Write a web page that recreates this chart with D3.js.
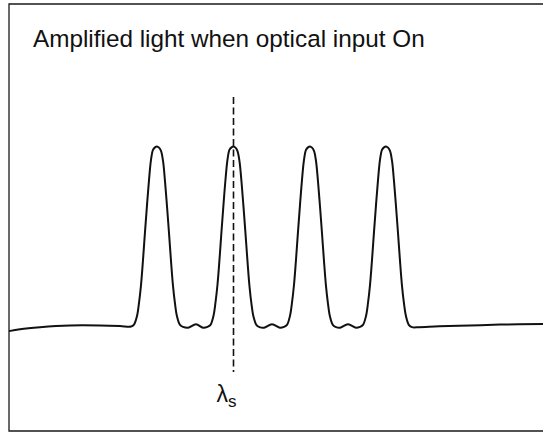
<!DOCTYPE html>
<html>
<head>
<meta charset="utf-8">
<script src="https://cdn.jsdelivr.net/npm/d3@7"></script>
<style>
  html, body { margin: 0; padding: 0; background: #fff; }
  svg { display: block; }
</style>
</head>
<body>
<svg id="chart" width="543" height="433"></svg>
<script>
// Output spectrum of the amplifier (arbitrary wavelength offset, relative power)
const wavelength = [
  0, 11, 31, 61, 91, 111,
  122, 125, 128, 130, 132, 134, 136, 138, 140, 142, 144, 146, 148, 150, 152, 154, 156, 158, 160, 162, 164, 166, 168, 171, 174,
  179, 187, 194,
  198.5, 201.5, 204.5, 206.5, 208.5, 210.5, 212.5, 214.5, 216.5, 218.5, 220.5, 222.5, 224.5, 226.5, 228.5, 230.5, 232.5, 234.5, 236.5, 238.5, 240.5, 242.5, 244.5, 247.5, 250.5,
  255, 263, 271,
  275, 278, 281, 283, 285, 287, 289, 291, 293, 295, 297, 299, 301, 303, 305, 307, 309, 311, 313, 315, 317, 319, 321, 324, 327,
  331, 339, 347,
  351, 354, 357, 359, 361, 363, 365, 367, 369, 371, 373, 375, 377, 379, 381, 383, 385, 387, 389, 391, 393, 395, 397, 400, 403,
  410, 430, 461, 491, 534
];
const power = [
  35.1, 35.8, 36.5, 37.1, 37.1, 36.9,
  36.7, 37.4, 40.4, 45.0, 51.3, 60.1, 70.0, 79.4, 88.2, 95.3, 98.8, 99.7, 100, 99.6, 98.5, 95.0, 87.8, 79.0, 69.6, 59.8, 51.0, 44.8, 40.3, 37.3, 36.6,
  36.3, 37.5, 36.3,
  36.6, 37.3, 40.5, 45.2, 51.5, 60.3, 70.2, 79.6, 88.4, 95.4, 98.9, 99.7, 100, 99.6, 98.4, 94.8, 87.6, 78.8, 69.4, 59.6, 50.8, 44.6, 40.2, 37.2, 36.5,
  36.3, 37.5, 36.3,
  36.6, 37.3, 40.5, 45.1, 51.4, 60.2, 70.1, 79.5, 88.3, 95.3, 98.8, 99.7, 100, 99.6, 98.5, 94.9, 87.7, 78.9, 69.5, 59.7, 50.9, 44.7, 40.2, 37.2, 36.5,
  36.3, 37.5, 36.3,
  36.6, 37.3, 40.4, 45.0, 51.3, 60.1, 70.0, 79.4, 88.2, 95.3, 98.8, 99.7, 100, 99.6, 98.5, 95.0, 87.8, 79.0, 69.6, 59.8, 51.0, 44.8, 40.3, 37.2, 36.5,
  36.5, 36.8, 37.1, 37.4, 37.6
];

// Signal wavelength marker
const signalWavelength = 224.5;
const signalLabel = "λ";
const signalSub = "s";
const titleText = "Amplified light when optical input On";

const svg = d3.select("#chart");
const W = 543, H = 433;

const frame = { left: 9, top: 4, bottom: 431 };

const x = d3.scaleLinear().domain([0, 534]).range([frame.left, W]);
const y = d3.scaleLinear().domain([0, 100]).range([frame.bottom, 146.5]);

// Frame (open on the right side)
svg.append("path")
  .attr("d", `M${W},${frame.top}H${frame.left}V${frame.bottom}H${W}`)
  .attr("fill", "none")
  .attr("stroke", "#1a1a1a")
  .attr("stroke-width", 1.3);

// Title
svg.append("text")
  .attr("x", 33)
  .attr("y", 47)
  .attr("font-family", "'Liberation Sans', Arial, Helvetica, sans-serif")
  .attr("font-size", 24.3)
  .attr("fill", "#111")
  .text(titleText);

// Spectrum trace
const pts = wavelength.map((w, i) => [w, power[i]]);
const line = d3.line()
  .x(d => x(d[0]))
  .y(d => y(d[1]))
  .curve(d3.curveCatmullRom.alpha(0.5));

svg.append("path")
  .datum(pts)
  .attr("d", line)
  .attr("fill", "none")
  .attr("stroke", "#111")
  .attr("stroke-width", 2)
  .attr("stroke-linejoin", "round");

// Dashed marker at the signal wavelength
svg.append("line")
  .attr("x1", x(signalWavelength))
  .attr("x2", x(signalWavelength))
  .attr("y1", y(117.4))
  .attr("y2", y(20.7))
  .attr("stroke", "#111")
  .attr("stroke-width", 1.6)
  .attr("stroke-dasharray", "7,3.5");

// λs label
const lbl = svg.append("text")
  .attr("x", x(signalWavelength) - 17)
  .attr("y", 402)
  .attr("font-family", "'Liberation Sans', Arial, Helvetica, sans-serif")
  .attr("font-size", 23)
  .attr("fill", "#111");
lbl.append("tspan").text(signalLabel);
lbl.append("tspan")
  .attr("font-size", 17)
  .attr("dy", 5)
  .text(signalSub);
</script>
</body>
</html>
